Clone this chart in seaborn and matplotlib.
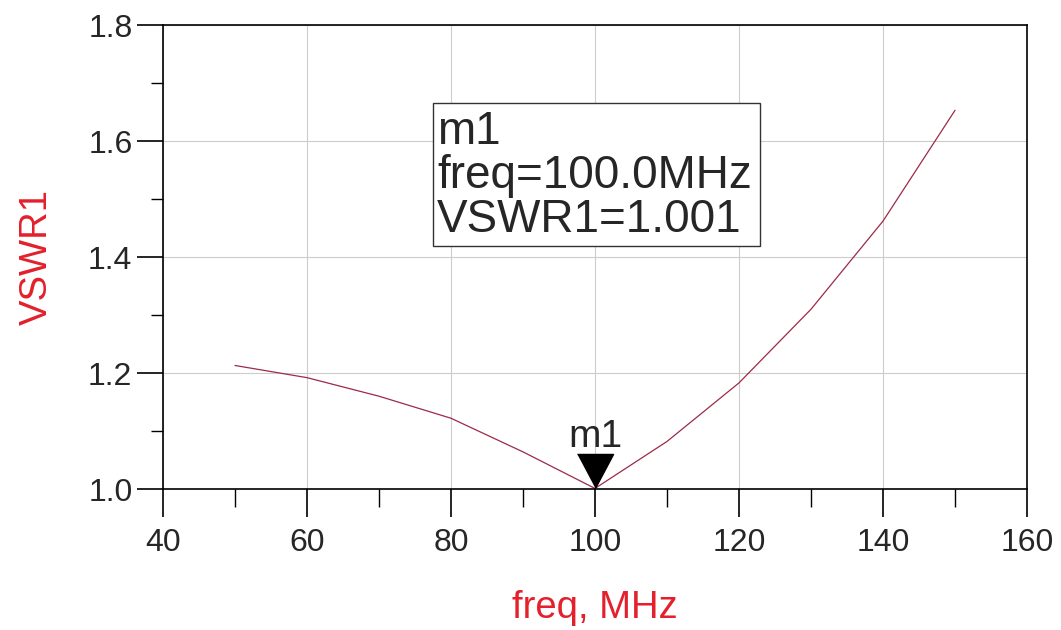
import matplotlib
matplotlib.use("Agg")
import matplotlib.pyplot as plt
from matplotlib.patches import Rectangle
from matplotlib.ticker import MultipleLocator
import pandas as pd
import seaborn as sns

# VSWR sweep
freq_mhz = [50, 60, 70, 80, 90, 100, 110, 120, 130, 140, 150]
vswr1 = [1.213, 1.192, 1.160, 1.122, 1.064, 1.001, 1.082, 1.183, 1.310, 1.462, 1.653]

marker_freq = 100.0
marker_vswr = 1.001
marker_name = "m1"

x_ticks = [40, 60, 80, 100, 120, 140, 160]
y_ticks = [1.0, 1.2, 1.4, 1.6, 1.8]

df = pd.DataFrame({"freq": freq_mhz, "VSWR1": vswr1})

sns.set_theme(style="white")
plt.rcParams["font.family"] = ["Liberation Sans", "DejaVu Sans"]

fig = plt.figure(figsize=(10.61, 6.30), dpi=100)
ax = fig.add_axes([0.1536, 0.2238, 0.968 - 0.1536, 0.9603 - 0.2238])

sns.lineplot(data=df, x="freq", y="VSWR1", ax=ax, color="#9c2a48", lw=0.9)

# marker: triangle with its tip on the data point
tri = [(-0.53, 1.0), (0.53, 1.0), (0.0, 0.0)]
ax.plot([marker_freq], [marker_vswr], marker=tri, markersize=49,
        color="black", linestyle="none", zorder=5, clip_on=False)
ax.annotate(marker_name, (marker_freq, marker_vswr), xytext=(0, 30),
            textcoords="offset points", ha="center", va="baseline", fontsize=28)

# marker readout box
ax.add_patch(Rectangle((0.3125, 0.5237), 0.691 - 0.3125, 0.832 - 0.5237,
                       transform=ax.transAxes, fc="white", ec="#333333",
                       lw=1.0, zorder=3))
ax.text(0.317, 0.817,
        f"{marker_name}\nfreq={marker_freq:.1f}MHz\nVSWR1={marker_vswr:.3f}",
        transform=ax.transAxes, ha="left", va="top", fontsize=33,
        linespacing=1.0, zorder=4)

ax.set_xlim(40, 160)
ax.set_ylim(1.0, 1.8)
ax.set_xticks(x_ticks)
ax.set_yticks(y_ticks)
ax.set_yticklabels([f"{v:.1f}" for v in y_ticks])
ax.xaxis.set_minor_locator(MultipleLocator(10))
ax.yaxis.set_minor_locator(MultipleLocator(0.1))
ax.tick_params(axis="x", which="major", direction="out", length=20, width=1.2,
               color="black", labelsize=23, pad=8, bottom=True)
ax.tick_params(axis="x", which="minor", direction="out", length=13, width=1.0,
               color="black", bottom=True)
ax.tick_params(axis="y", which="major", direction="out", length=19, width=1.2,
               color="black", labelsize=23, pad=3, left=True)
ax.tick_params(axis="y", which="minor", direction="out", length=9, width=1.0,
               color="black", left=True)
ax.grid(True, which="major", color="#cccccc", lw=0.8)

for side in ["left", "bottom", "top", "right"]:
    ax.spines[side].set_visible(True)
    ax.spines[side].set_color("black")
    ax.spines[side].set_linewidth(1.2)

ax.set_xlabel("freq, MHz", color="#e3202c", fontsize=27.5)
ax.set_ylabel("VSWR1", color="#e3202c", fontsize=27.5)
ax.xaxis.set_label_coords(0.5, -0.218)
ax.yaxis.set_label_coords(-0.125, 0.5)

fig.savefig("out.png", dpi=100, facecolor="white")
plt.close(fig)
